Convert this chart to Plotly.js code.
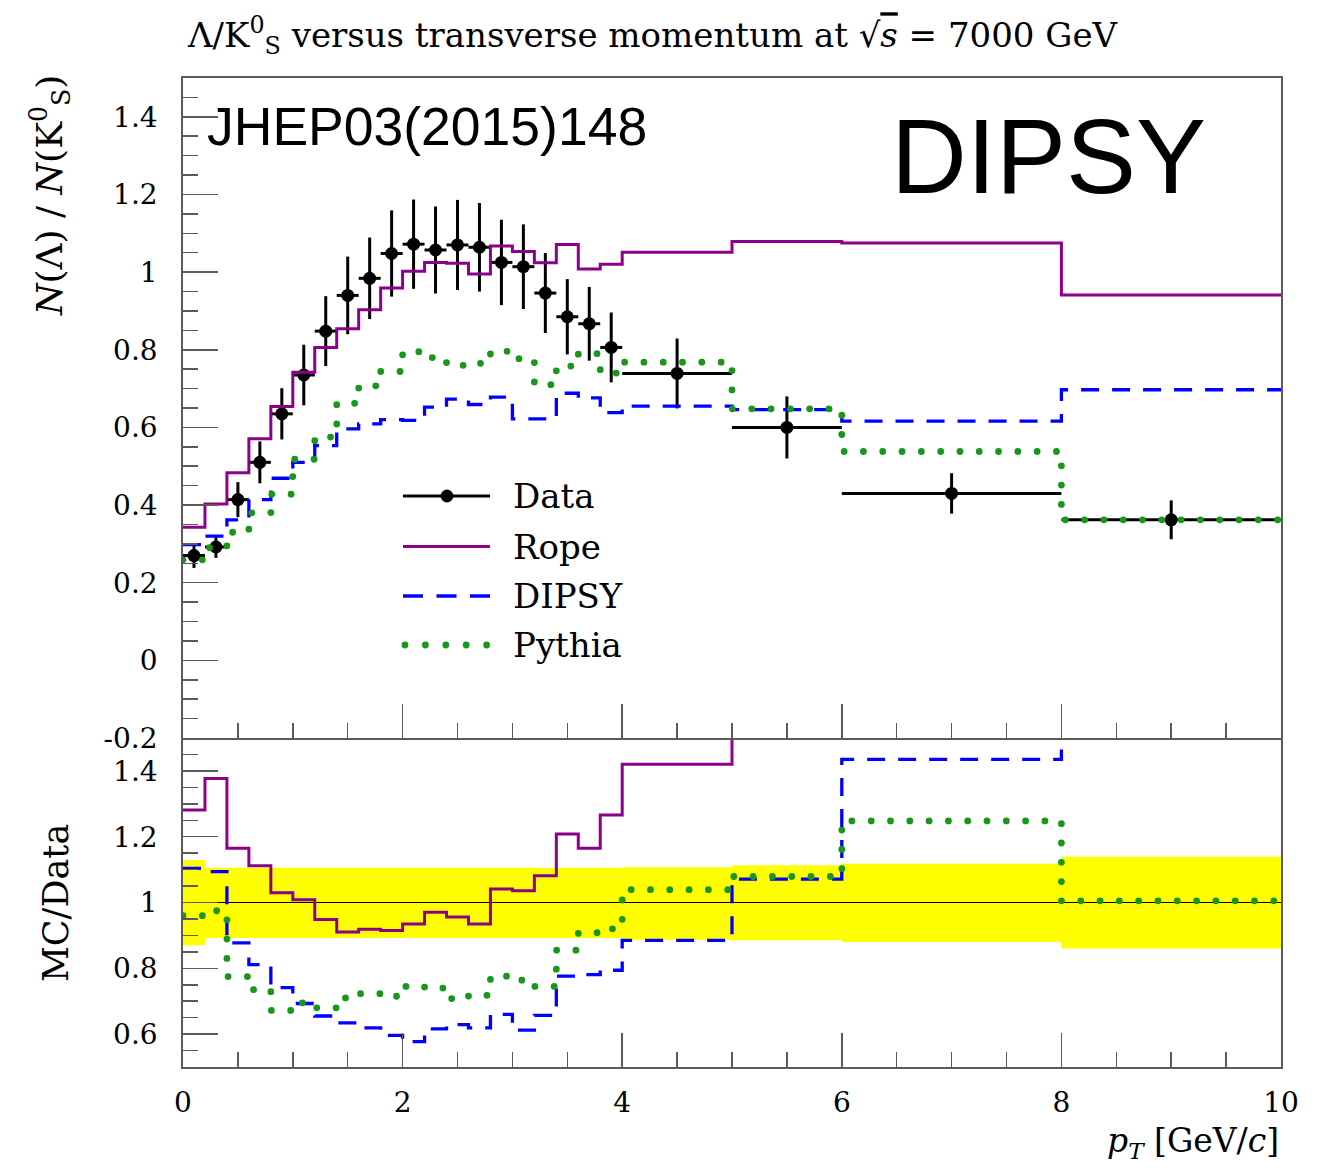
<!DOCTYPE html>
<html>
<head>
<meta charset="utf-8">
<script src="https://cdn.plot.ly/plotly-3.0.1.min.js"></script>
<style>
  html, body { margin: 0; padding: 0; background: #fff; }
  #chart { width: 1320px; height: 1168px; }
</style>
</head>
<body>
<div id="chart"></div>
<script>
// pT bin edges [GeV/c]
const binEdges = [0, 0.2, 0.4, 0.6, 0.8, 1.0, 1.2, 1.4, 1.6, 1.8, 2.0, 2.2, 2.4, 2.6, 2.8, 3.0, 3.2, 3.4, 3.6, 3.8, 4.0, 5, 6, 8, 10];

// Lambda / K0S ratio, measured
const dataRatio = [0.270, 0.292, 0.414, 0.510, 0.635, 0.735, 0.848, 0.940, 0.984, 1.048, 1.072, 1.057, 1.070, 1.064, 1.025, 1.014, 0.946, 0.885, 0.867, 0.806, 0.739, 0.600, 0.430, 0.362];
const dataErr   = [0.032, 0.028, 0.045, 0.054, 0.066, 0.078, 0.090, 0.100, 0.105, 0.111, 0.115, 0.112, 0.116, 0.114, 0.110, 0.109, 0.103, 0.097, 0.095, 0.090, 0.090, 0.080, 0.052, 0.050];

// Generator predictions
const ropeRatio   = [0.343, 0.403, 0.483, 0.571, 0.654, 0.742, 0.806, 0.854, 0.903, 0.959, 1.002, 1.025, 1.023, 0.995, 1.067, 1.053, 1.024, 1.071, 1.008, 1.020, 1.051, 1.079, 1.075, 0.941];
const dipsyRatio  = [0.298, 0.320, 0.362, 0.414, 0.469, 0.510, 0.553, 0.596, 0.609, 0.620, 0.618, 0.652, 0.673, 0.659, 0.678, 0.622, 0.622, 0.688, 0.676, 0.638, 0.655, 0.646, 0.616, 0.697];
const pythiaRatio = [0.259, 0.290, 0.330, 0.380, 0.428, 0.518, 0.575, 0.662, 0.707, 0.744, 0.795, 0.780, 0.760, 0.765, 0.796, 0.777, 0.710, 0.758, 0.790, 0.740, 0.768, 0.648, 0.538, 0.362];

// MC / Data
const ropeOverData   = [1.281, 1.377, 1.165, 1.112, 1.030, 1.008, 0.948, 0.910, 0.919, 0.915, 0.935, 0.970, 0.956, 0.935, 1.041, 1.036, 1.081, 1.208, 1.165, 1.266, 1.420, 1.80, 2.50, 2.59];
const dipsyOverData  = [1.104, 1.094, 0.877, 0.811, 0.741, 0.693, 0.655, 0.634, 0.619, 0.596, 0.577, 0.616, 0.629, 0.619, 0.660, 0.612, 0.657, 0.776, 0.781, 0.794, 0.885, 1.071, 1.435, 1.93];
const pythiaOverData = [0.960, 0.975, 0.775, 0.735, 0.672, 0.695, 0.680, 0.710, 0.723, 0.715, 0.745, 0.740, 0.708, 0.718, 0.776, 0.764, 0.745, 0.855, 0.908, 0.920, 1.039, 1.079, 1.248, 1.005];

// Relative data uncertainty band
const bandLow  = [0.870, 0.892, 0.892, 0.892, 0.892, 0.892, 0.892, 0.892, 0.892, 0.892, 0.892, 0.892, 0.892, 0.892, 0.892, 0.892, 0.892, 0.892, 0.892, 0.892, 0.887, 0.885, 0.880, 0.860];
const bandHigh = [1.129, 1.106, 1.106, 1.106, 1.106, 1.106, 1.106, 1.106, 1.106, 1.106, 1.106, 1.106, 1.106, 1.106, 1.106, 1.106, 1.106, 1.106, 1.106, 1.106, 1.107, 1.113, 1.118, 1.139];

// Axis ticks
const xTickVals = [0, 2, 4, 6, 8, 10];
const xTickText = ['0', '2', '4', '6', '8', '10'];
const mainTickVals = [-0.2, 0, 0.2, 0.4, 0.6, 0.8, 1, 1.2, 1.4];
const mainTickText = ['-0.2', '0', '0.2', '0.4', '0.6', '0.8', '1', '1.2', '1.4'];
const ratioTickVals = [0.6, 0.8, 1, 1.2, 1.4];
const ratioTickText = ['0.6', '0.8', '1', '1.2', '1.4'];

// Legend entries
const legendNames = ['Data', 'Rope', 'DIPSY', 'Pythia'];

const PURPLE = 'rgb(140,0,140)';
const BLUE = 'rgb(0,0,255)';
const GREEN = 'rgb(26,150,26)';
const YELLOW = 'rgb(255,255,0)';
const FRAME = 'rgb(90,90,90)';
const SERIF = '"DejaVu Serif", "Liberation Serif", serif';
const SANS = '"Liberation Sans", Arial, sans-serif';

// Step histogram helper: y repeated for the last edge, drawn with hv shape
function stepY(vals) { return vals.concat([vals[vals.length - 1]]); }
const centers = dataRatio.map((_, i) => (binEdges[i] + binEdges[i + 1]) / 2);
const halfWidths = dataRatio.map((_, i) => (binEdges[i + 1] - binEdges[i]) / 2);

const ropeLine = { color: PURPLE, width: 3, shape: 'hv' };
const dipsyLine = { color: BLUE, width: 3.3, shape: 'hv', dash: '18px,13px' };
const pythiaLine = { color: GREEN, width: 6.8, shape: 'hv', dash: '0px,19.3px' };

const traces = [
  // upper panel
  { type: 'scatter', mode: 'markers', x: centers, y: dataRatio, xaxis: 'x2', yaxis: 'y',
    marker: { color: 'black', size: 13 },
    error_y: { type: 'data', array: dataErr, visible: true, color: 'black', thickness: 3, width: 0 },
    error_x: { type: 'data', array: halfWidths, visible: true, color: 'black', thickness: 3, width: 0 },
    hoverinfo: 'skip', showlegend: false },
  { type: 'scatter', mode: 'lines', x: binEdges, y: stepY(ropeRatio), xaxis: 'x2', yaxis: 'y', line: ropeLine, showlegend: false },
  { type: 'scatter', mode: 'lines', x: binEdges, y: stepY(dipsyRatio), xaxis: 'x2', yaxis: 'y', line: dipsyLine, showlegend: false },
  { type: 'scatter', mode: 'lines', x: binEdges, y: stepY(pythiaRatio), xaxis: 'x2', yaxis: 'y', line: pythiaLine, showlegend: false },

  // lower panel: uncertainty band
  { type: 'scatter', mode: 'lines', x: binEdges, y: stepY(bandLow), xaxis: 'x', yaxis: 'y2',
    line: { width: 0, shape: 'hv', color: YELLOW }, showlegend: false },
  { type: 'scatter', mode: 'lines', x: binEdges, y: stepY(bandHigh), xaxis: 'x', yaxis: 'y2',
    line: { width: 0, shape: 'hv', color: YELLOW }, fill: 'tonexty', fillcolor: YELLOW, showlegend: false },
  // unity reference
  { type: 'scatter', mode: 'lines', x: [binEdges[0], binEdges[binEdges.length - 1]], y: [1, 1], xaxis: 'x', yaxis: 'y2',
    line: { color: 'black', width: 1.2 }, showlegend: false },
  { type: 'scatter', mode: 'lines', x: binEdges, y: stepY(ropeOverData), xaxis: 'x', yaxis: 'y2', line: ropeLine, showlegend: false },
  { type: 'scatter', mode: 'lines', x: binEdges, y: stepY(dipsyOverData), xaxis: 'x', yaxis: 'y2', line: dipsyLine, showlegend: false },
  { type: 'scatter', mode: 'lines', x: binEdges, y: stepY(pythiaOverData), xaxis: 'x', yaxis: 'y2', line: pythiaLine, showlegend: false }
];

// pixel -> paper helpers (plot area 183..1281 x 78..1067)
const L = 183, R = 1281, T = 78, B = 1067;
const px = v => (v - L) / (R - L);
const py = v => (B - v) / (B - T);
const split = (B - 738) / (B - T);

const axisCommon = {
  showline: true, linecolor: FRAME, linewidth: 1.8, mirror: true,
  ticks: 'inside', tickcolor: FRAME, tickwidth: 1.5,
  showgrid: false, zeroline: false, fixedrange: true,
  tickfont: { family: SERIF, size: 28, color: 'black' }
};

// legend samples
const legendY = [496, 546.5, 596, 645];
const legendShapes = [
  { type: 'line', xref: 'paper', yref: 'paper', x0: px(403), x1: px(490), y0: py(legendY[0]), y1: py(legendY[0]), line: { color: 'black', width: 3 } },
  { type: 'circle', xref: 'paper', yref: 'paper', x0: px(441), x1: px(453), y0: py(legendY[0] + 6), y1: py(legendY[0] - 6), fillcolor: 'black', line: { color: 'black', width: 1 } },
  { type: 'line', xref: 'paper', yref: 'paper', x0: px(403), x1: px(490), y0: py(legendY[1]), y1: py(legendY[1]), line: { color: PURPLE, width: 3 } },
  { type: 'line', xref: 'paper', yref: 'paper', x0: px(403), x1: px(490), y0: py(legendY[2]), y1: py(legendY[2]), line: { color: BLUE, width: 3.3, dash: '20px,13.5px' } },
  { type: 'line', xref: 'paper', yref: 'paper', x0: px(405), x1: px(488), y0: py(legendY[3]), y1: py(legendY[3]), line: { color: GREEN, width: 6.8, dash: '0px,20.4px' } }
];

const annotations = legendNames.map((name, i) => ({
  xref: 'paper', yref: 'paper', x: px(511), y: py(legendY[i]), xanchor: 'left', yanchor: 'middle',
  text: name, showarrow: false, font: { family: SERIF, size: 34, color: 'black' }
}));

annotations.push(
  { xref: 'paper', yref: 'paper', x: px(185), y: py(36), xanchor: 'left', yanchor: 'middle', showarrow: false,
    text: 'Λ/K<sup>0</sup><sub>S</sub> versus transverse momentum at √<span style="text-decoration:overline"><i>s</i></span> = 7000 GeV',
    font: { family: SERIF, size: 34, color: 'black' } },
  { xref: 'paper', yref: 'paper', x: px(205), y: py(127), xanchor: 'left', yanchor: 'middle', showarrow: false,
    text: 'JHEP03(2015)148', font: { family: SANS, size: 53.5, color: 'black' } },
  { xref: 'paper', yref: 'paper', x: px(889), y: py(157), xanchor: 'left', yanchor: 'middle', showarrow: false,
    text: 'DIPSY', font: { family: SANS, size: 105, color: 'black' } },
  { xref: 'paper', yref: 'paper', x: px(50), y: py(196), xanchor: 'center', yanchor: 'middle', showarrow: false, textangle: -90,
    text: '<i>N</i>(Λ) / <i>N</i>(K<sup>0</sup><sub>S</sub>)', font: { family: SERIF, size: 36, color: 'black' } },
  { xref: 'paper', yref: 'paper', x: px(56), y: py(903), xanchor: 'center', yanchor: 'middle', showarrow: false, textangle: -90,
    text: 'MC/Data', font: { family: SERIF, size: 35, color: 'black' } },
  { xref: 'paper', yref: 'paper', x: 1, y: py(1142), xanchor: 'right', yanchor: 'middle', showarrow: false,
    text: '<i>p</i><sub><i>T</i></sub> [GeV/<i>c</i>]', font: { family: SERIF, size: 33, color: 'black' } }
);

const layout = {
  width: 1320, height: 1168, autosize: false,
  margin: { l: L, r: 1320 - R, t: T, b: 1168 - B, pad: 0 },
  paper_bgcolor: 'white', plot_bgcolor: 'white',
  showlegend: false,
  // lower-panel x axis: its top edge is drawn by the upper panel's axis line
  xaxis: Object.assign({}, axisCommon, {
    domain: [0, 1], anchor: 'y2', range: [0, 10], mirror: false,
    tickmode: 'array', tickvals: xTickVals, ticktext: xTickText, ticklen: 34,
    minor: { dtick: 0.5, tick0: 0, ticks: 'inside', ticklen: 15, tickcolor: FRAME, tickwidth: 1.5 },
    ticklabelstandoff: 10
  }),
  xaxis2: Object.assign({}, axisCommon, {
    domain: [0, 1], anchor: 'y', range: [0, 10], matches: 'x',
    tickmode: 'array', tickvals: xTickVals, ticklen: 34, showticklabels: false,
    minor: { dtick: 0.5, tick0: 0, ticks: 'inside', ticklen: 15, tickcolor: FRAME, tickwidth: 1.5 }
  }),
  yaxis: Object.assign({}, axisCommon, {
    domain: [split, 1], anchor: 'x2', range: [-0.2, 1.5],
    tickmode: 'array', tickvals: mainTickVals, ticktext: mainTickText, ticklen: 35,
    minor: { dtick: 0.05, tick0: 0, ticks: 'inside', ticklen: 15, tickcolor: FRAME, tickwidth: 1.5 },
    ticklabelstandoff: 18
  }),
  yaxis2: Object.assign({}, axisCommon, {
    domain: [0, split], anchor: 'x', range: [0.5, 1.5],
    tickmode: 'array', tickvals: ratioTickVals, ticktext: ratioTickText, ticklen: 35,
    minor: { dtick: 0.05, tick0: 0, ticks: 'inside', ticklen: 15, tickcolor: FRAME, tickwidth: 1.5 },
    ticklabelstandoff: 18
  }),
  shapes: legendShapes,
  annotations: annotations
};

Plotly.newPlot('chart', traces, layout, { staticPlot: true, displayModeBar: false }).then(() => {
  // round caps turn the zero-length dashes of the Pythia curves into dots
  document.querySelectorAll('#chart path').forEach(p => {
    if (p.style.stroke === GREEN.replace(/,/g, ', ')) p.style.strokeLinecap = 'round';
  });
});
</script>
</body>
</html>
